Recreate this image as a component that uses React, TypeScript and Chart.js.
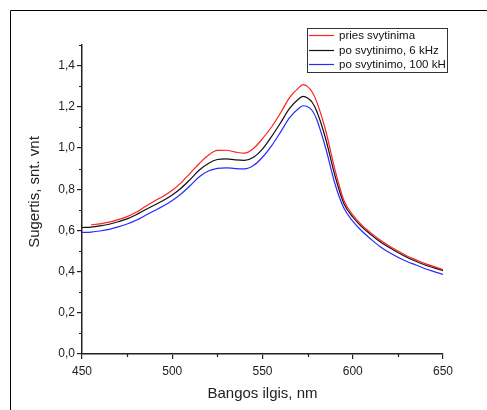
import React, { useEffect, useRef } from "react";
import { Chart, registerables } from "chart.js";

Chart.register(...registerables);

const wavelengths = [
  450, 455, 460, 465, 470, 475, 480, 485, 490, 495, 500, 505, 510, 515, 520, 525, 530, 535, 540, 545,
  550, 555, 560, 565, 570, 572.5, 575, 577.5, 580, 585, 590, 595, 600, 605, 610, 615, 620, 625, 630, 635, 640, 645, 650,
];

const seriesLabels = ["pries svytinima", "po svytinimo, 6 kHz", "po svytinimo, 100 kH"];

const priesSvytinima = [
  null, 0.627, 0.632, 0.64, 0.652, 0.667, 0.688, 0.716, 0.742, 0.766, 0.795, 0.832, 0.878, 0.925, 0.965, 0.988, 0.989, 0.98, 0.975, 0.998,
  1.045, 1.102, 1.17, 1.245, 1.292, 1.308, 1.298, 1.272, 1.225, 1.085, 0.9, 0.748, 0.675, 0.625, 0.588, 0.555, 0.526, 0.5, 0.476, 0.457, 0.439, 0.424, 0.41,
];

const po6kHz = [
  0.614, 0.616, 0.622, 0.63, 0.642, 0.656, 0.676, 0.7, 0.722, 0.745, 0.772, 0.806, 0.848, 0.893, 0.925, 0.944, 0.947, 0.942, 0.94, 0.955,
  0.995, 1.055, 1.122, 1.192, 1.238, 1.251, 1.243, 1.222, 1.18, 1.045, 0.87, 0.732, 0.665, 0.617, 0.58, 0.546, 0.518, 0.493, 0.47, 0.45, 0.432, 0.418, 0.405,
];

const po100kH = [
  0.59, 0.592, 0.597, 0.605, 0.617, 0.631, 0.649, 0.672, 0.695, 0.718, 0.745, 0.778, 0.818, 0.86, 0.888, 0.901, 0.904, 0.9, 0.899, 0.915,
  0.955, 1.01, 1.077, 1.147, 1.192, 1.205, 1.2, 1.182, 1.14, 1.0, 0.83, 0.71, 0.645, 0.597, 0.558, 0.522, 0.494, 0.47, 0.449, 0.432, 0.414, 0.4, 0.386,
];

const seriesColors = ["#ff2020", "#111111", "#2a2aff"];

const xTickValues = [450, 500, 550, 600, 650];
const xMinorTicks = [475, 525, 575, 625];
const yTickValues = [0, 0.2, 0.4, 0.6, 0.8, 1.0, 1.2, 1.4];
const yMinorTicks = [0.1, 0.3, 0.5, 0.7, 0.9, 1.1, 1.3, 1.5];

const xTitle = "Bangos ilgis, nm";
const yTitle = "Sugertis, snt. vnt";

const FONT = "'Liberation Sans', Arial, sans-serif";
const AXIS_COLOR = "#222222";

const decorPlugin = {
  id: "decor",
  afterDraw(chart: any) {
    const ctx = chart.ctx;
    const xs = chart.scales.x;
    const ys = chart.scales.y;
    const area = chart.chartArea;
    ctx.save();
    // outer frame (top + left)
    ctx.strokeStyle = "#000";
    ctx.lineWidth = 1;
    ctx.beginPath();
    ctx.moveTo(10.5, 410);
    ctx.lineTo(10.5, 10.5);
    ctx.lineTo(487, 10.5);
    ctx.stroke();
    // minor ticks
    ctx.strokeStyle = AXIS_COLOR;
    ctx.lineWidth = 1.2;
    ctx.beginPath();
    for (const v of yMinorTicks) {
      const y = Math.round(ys.getPixelForValue(v)) + 0.5;
      ctx.moveTo(area.left - 3, y);
      ctx.lineTo(area.left, y);
    }
    for (const v of xMinorTicks) {
      const x = Math.round(xs.getPixelForValue(v)) + 0.5;
      ctx.moveTo(x, area.bottom);
      ctx.lineTo(x, area.bottom + 3);
    }
    ctx.stroke();
    // y axis title
    ctx.fillStyle = "#222";
    ctx.font = `15px ${FONT}`;
    ctx.textAlign = "center";
    ctx.textBaseline = "middle";
    ctx.translate(35, 192);
    ctx.rotate(-Math.PI / 2);
    ctx.fillText(yTitle, 0, 0);
    ctx.setTransform(1, 0, 0, 1, 0, 0);
    // legend box
    const bx = 307.5, by = 28.5, bw = 140, bh = 44;
    ctx.fillStyle = "#fff";
    ctx.fillRect(bx, by, bw, bh);
    ctx.strokeStyle = "#333";
    ctx.lineWidth = 1;
    ctx.strokeRect(bx, by, bw, bh);
    ctx.font = `11.5px ${FONT}`;
    ctx.textBaseline = "middle";
    ctx.textAlign = "left";
    const rows = [35, 50, 64];
    chart.data.datasets.forEach((ds: any, i: number) => {
      const y = rows[i] + 0.5;
      ctx.strokeStyle = ds.borderColor;
      ctx.lineWidth = 1.2;
      ctx.beginPath();
      ctx.moveTo(309, y);
      ctx.lineTo(334, y);
      ctx.stroke();
      ctx.fillStyle = "#111";
      ctx.fillText(ds.label, 339, y + 0.5);
    });
    ctx.restore();
  },
};

export default function App() {
  const ref = useRef<HTMLCanvasElement | null>(null);

  useEffect(() => {
    document.body.style.margin = "0";
    const canvas = ref.current;
    if (!canvas) return;
    const datasets = [priesSvytinima, po6kHz, po100kH].map((vals, i) => ({
      label: seriesLabels[i],
      data: wavelengths.map((w, j) => ({ x: w, y: vals[j] })),
      borderColor: seriesColors[i],
      backgroundColor: seriesColors[i],
      borderWidth: 1.2,
      pointRadius: 0,
      cubicInterpolationMode: "monotone" as const,
      fill: false,
    }));
    const chart = new Chart(canvas, {
      type: "line",
      data: { datasets },
      options: {
        animation: false,
        responsive: false,
        devicePixelRatio: 1,
        layout: { padding: { top: 45, right: 44, left: 0, bottom: 0 } },
        plugins: { legend: { display: false }, tooltip: { enabled: false } },
        scales: {
          x: {
            type: "linear",
            min: 450,
            max: 650,
            afterFit: (s: any) => {
              s.height = 56;
            },
            afterBuildTicks: (s: any) => {
              s.ticks = xTickValues.map((v) => ({ value: v }));
            },
            ticks: {
              color: AXIS_COLOR,
              font: { family: FONT, size: 12 },
              padding: 5,
              maxRotation: 0,
              callback: (v: any) => String(v),
            },
            grid: {
              drawOnChartArea: false,
              drawTicks: true,
              tickLength: 5,
              color: AXIS_COLOR,
              lineWidth: 1.2,
            },
            border: { display: true, color: AXIS_COLOR, width: 1.5 },
            title: {
              display: true,
              text: xTitle,
              color: "#222",
              font: { family: FONT, size: 15 },
              padding: { top: 0, bottom: 7 },
            },
          },
          y: {
            type: "linear",
            min: 0,
            max: 1.5,
            afterFit: (s: any) => {
              s.width = 82;
            },
            afterBuildTicks: (s: any) => {
              s.ticks = yTickValues.map((v) => ({ value: v }));
            },
            ticks: {
              color: AXIS_COLOR,
              font: { family: FONT, size: 12 },
              padding: 2,
              callback: (v: any) => Number(v).toFixed(1).replace(".", ","),
            },
            grid: {
              drawOnChartArea: false,
              drawTicks: true,
              tickLength: 5,
              color: AXIS_COLOR,
              lineWidth: 1.2,
            },
            border: { display: true, color: AXIS_COLOR, width: 1.5 },
            title: { display: false, text: yTitle },
          },
        },
      },
      plugins: [decorPlugin],
    });
    return () => chart.destroy();
  }, []);

  return <canvas ref={ref} width={487} height={410} style={{ display: "block" }} />;
}
